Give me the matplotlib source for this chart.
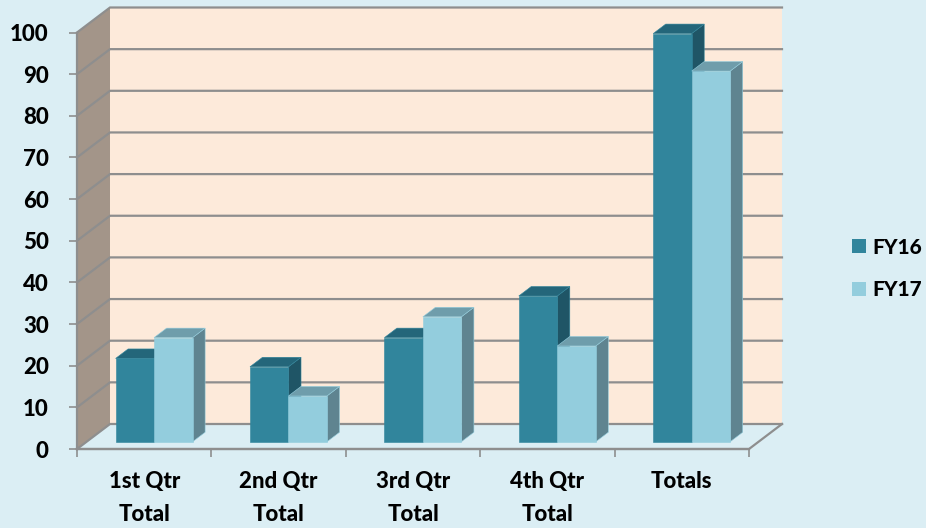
import matplotlib
matplotlib.use('Agg')
import matplotlib.pyplot as plt
from matplotlib.patches import Polygon, Patch

# Data
categories = ['1st Qtr\nTotal', '2nd Qtr\nTotal', '3rd Qtr\nTotal', '4th Qtr\nTotal', 'Totals']
fy16 = [20, 18, 25, 35, 98]
fy17 = [25, 11, 30, 23, 89]
y_ticks = list(range(0, 101, 10))

# Colors: front, top, side
bg = '#dbeef4'
wall_back = '#fdeada'
wall_side = '#a39589'
grid_col = '#8e8e8e'
fy16_cols = ('#31859c', '#24667a', '#1f5566')
fy17_cols = ('#93cddd', '#6f9dab', '#5f8490')

plt.rcParams['font.family'] = ['Lato', 'DejaVu Sans']

W, H = 926, 528
fig = plt.figure(figsize=(W / 100, H / 100), dpi=100, facecolor=bg)
# front plane of the 3D box, in pixels
left, right, bottom, top = 77, 749, 449, 32.5
ax = fig.add_axes([left / W, 1 - bottom / H, (right - left) / W, (bottom - top) / H])
ax.set_xlim(0, 5)
ax.set_ylim(0, 100)
ax.patch.set_alpha(0)

# Oblique depth of the box, in data units
DX = 33 / 134.4
DY = 25 / 4.165
bar_w = 38.5 / 134.4
near, far = 0.29, 0.67  # bar depth as a fraction of the box depth
bar_shift = 0.3 / 134.4


def poly(pts, col, z, ec='none', lw=0):
    ax.add_patch(Polygon(pts, closed=True, facecolor=col, edgecolor=ec, linewidth=lw,
                         zorder=z, clip_on=False))


# Walls and floor
poly([(0, 0), (DX, DY), (DX, 100 + DY), (0, 100)], wall_side, 1)
poly([(DX, DY), (5 + DX, DY), (5 + DX, 100 + DY), (DX, 100 + DY)], wall_back, 1)

# Gridlines run along the side wall then along the back wall
for v in y_ticks:
    ax.plot([0, DX, 5 + DX], [v, v + DY, v + DY], color=grid_col, lw=1.6, zorder=2,
            clip_on=False, solid_joinstyle='miter')
ax.plot([0, 5, 5 + DX], [0, 0, DY], color=grid_col, lw=1.6, zorder=2, clip_on=False)


def draw_bar(x0, val, cols, z):
    # x0 is the left edge of the front face, at depth 0
    x0 = x0 + near * DX + bar_shift
    y0 = near * DY
    y1 = y0 + val
    x1 = x0 + bar_w
    ddx = (far - near) * DX
    ddy = (far - near) * DY
    edge = dict(ec=cols[0], lw=0.4)
    poly([(x1, y0), (x1 + ddx, y0 + ddy), (x1 + ddx, y1 + ddy), (x1, y1)], cols[2], z, **edge)
    poly([(x0, y1), (x1, y1), (x1 + ddx, y1 + ddy), (x0 + ddx, y1 + ddy)], cols[1], z, **edge)
    poly([(x0, y0), (x1, y0), (x1, y1), (x0, y1)], cols[0], z + 0.1, **edge)


for i in range(len(categories)):
    draw_bar(i + 0.5 - bar_w, fy16[i], fy16_cols, 3 + i * 0.5)
    draw_bar(i + 0.5, fy17[i], fy17_cols, 3.2 + i * 0.5)

# Axes
for s in ['top', 'right']:
    ax.spines[s].set_visible(False)
for s in ['left', 'bottom']:
    ax.spines[s].set_color(grid_col)
    ax.spines[s].set_linewidth(1.6)
    ax.spines[s].set_zorder(2.5)

ax.set_yticks(y_ticks)
ax.tick_params(axis='y', length=5.8, width=1.2, color=grid_col, pad=14.5,
               labelsize=16, labelcolor='black')
for t in ax.get_yticklabels():
    t.set_fontweight('black')

ax.set_xticks(range(len(categories) + 1))
ax.set_xticklabels([])
ax.set_xticks([i + 0.5 for i in range(len(categories))], minor=True)
ax.set_xticklabels(categories, minor=True, fontsize=16, fontweight='black',
                   linespacing=1.7, va='top')
ax.tick_params(axis='x', which='major', length=5.8, width=1.2, color=grid_col)
ax.tick_params(axis='x', which='minor', length=0, pad=16)

handles = [Patch(facecolor=fy16_cols[0], label='FY16'), Patch(facecolor=fy17_cols[0], label='FY17')]
fig.legend(handles=handles, loc='center left', bbox_to_anchor=(0.92, 0.4915), frameon=False,
           handlelength=0.68, handleheight=0.68, handletextpad=0.3, labelspacing=1.15,
           borderaxespad=0, borderpad=0, prop={'size': 15, 'weight': 'black'})

fig.savefig('out.png', dpi=100, facecolor=bg)
